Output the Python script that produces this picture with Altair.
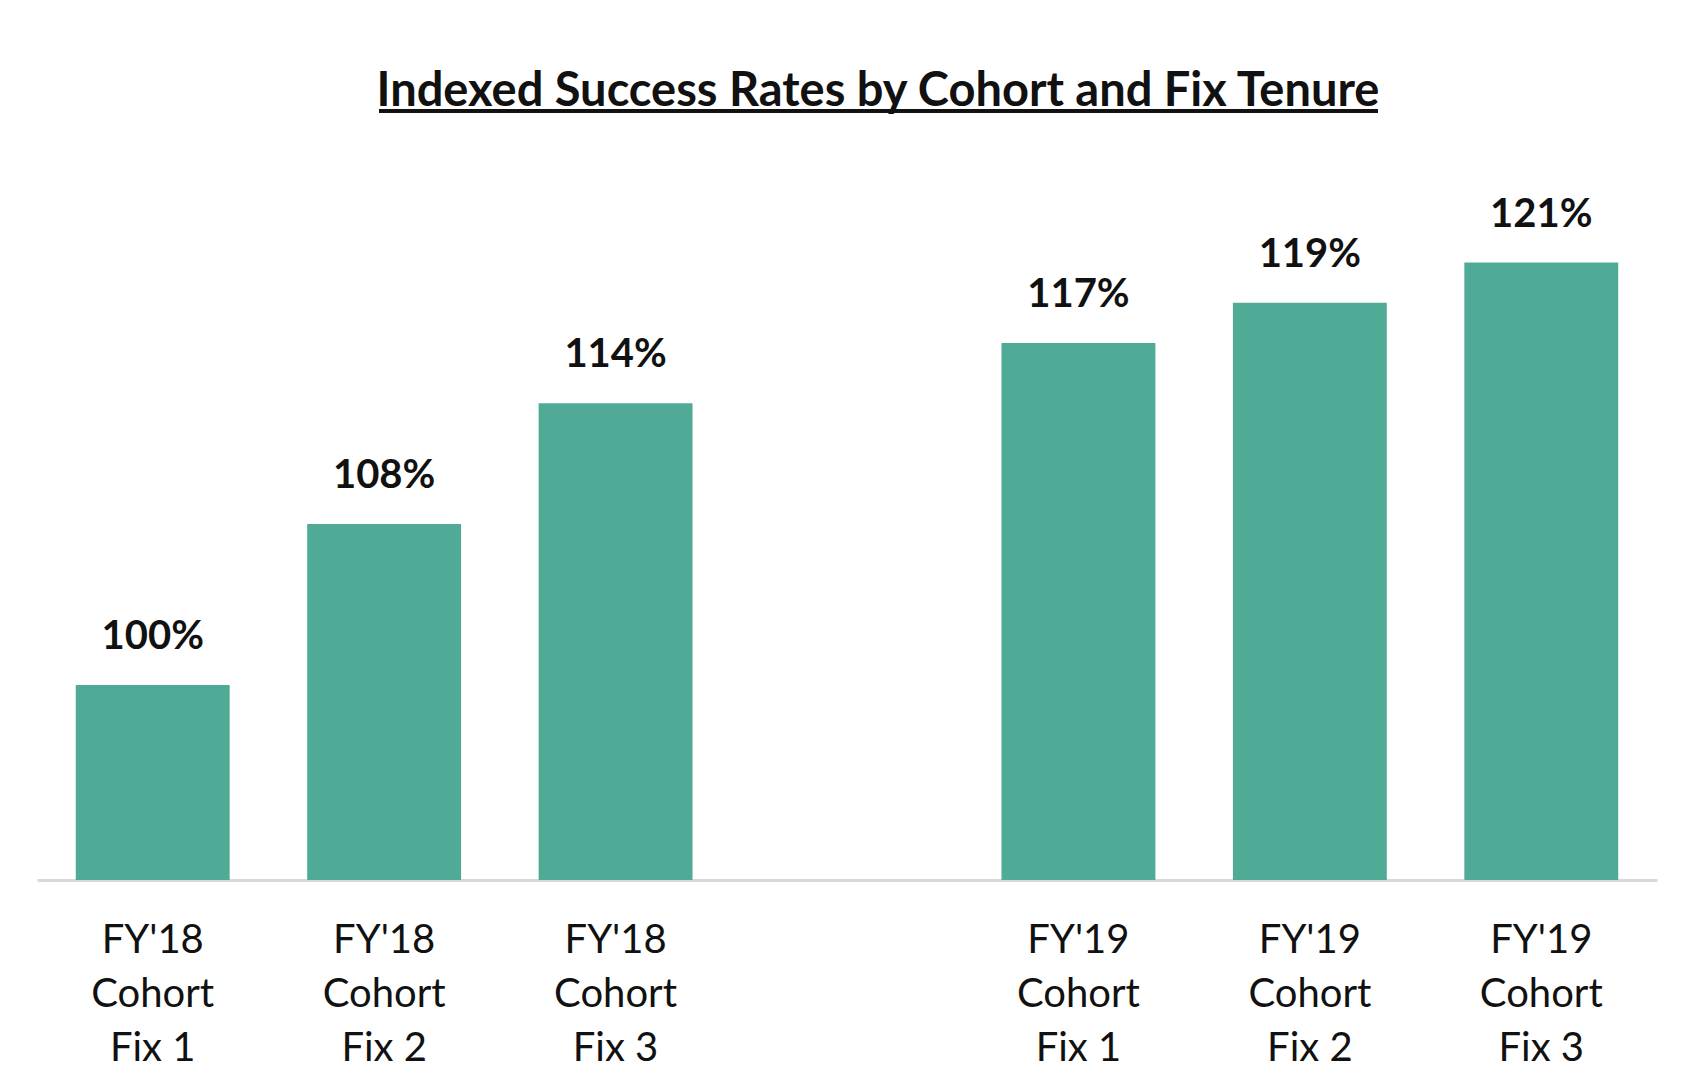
import altair as alt
import pandas as pd

categories = ["FY'18|Cohort|Fix 1", "FY'18|Cohort|Fix 2", "FY'18|Cohort|Fix 3",
              "FY'19|Cohort|Fix 1", "FY'19|Cohort|Fix 2", "FY'19|Cohort|Fix 3"]
values = [100, 108, 114, 117, 119, 121]
gap = " "
domain = categories[:3] + [gap] + categories[3:]

df = pd.DataFrame({"cat": categories, "value": values})

FONT = "Lato"
BAR = "#50AB96"
Y0 = 90.3

x = alt.X("cat:N", sort=domain,
          scale=alt.Scale(domain=domain, paddingInner=0.335, paddingOuter=0.1675),
          axis=alt.Axis(title=None, labelExpr="split(datum.label, '|')",
                        labelFont=FONT, labelFontSize=40, labelColor="#111111",
                        labelLineHeight=54, labelPadding=40, labelAngle=0,
                        ticks=False, domainColor="#D9D9D9", domainWidth=3,
                        labelBaseline="top"))
y = alt.Y("value:Q", scale=alt.Scale(domain=[Y0, Y0 + 36], clamp=True), axis=None)

bars = alt.Chart(df).mark_bar(color=BAR).encode(x=x, y=y, y2=alt.datum(Y0))
labels = alt.Chart(df).transform_calculate(
    lbl="format(datum.value, 'd') + '%'"
).mark_text(font=FONT, fontSize=40, fontWeight="bold", color="#111111",
            baseline="alphabetic", dy=-36).encode(x=x, y=y, text="lbl:N")

underline = alt.Chart(df).mark_rule(color="#111111", strokeWidth=3).encode(
    x=alt.value(342), x2=alt.value(1341), y=alt.value(-45))

chart = alt.layer(bars, labels, underline).properties(
    width=1620, height=724,
    title=alt.TitleParams("Indexed Success Rates by Cohort and Fix Tenure",
                          font=FONT, fontSize=47, fontWeight="bold", color="#111111",
                          anchor="middle", dx=31, dy=47, baseline="alphabetic", offset=4),
    autosize=alt.AutoSizeParams(type="none"),
    padding={"left": 37, "top": 156, "right": 31, "bottom": 212},
    background="white",
).configure_view(strokeWidth=0)

chart.save("out.html", embed_options={"renderer": "svg", "actions": False})
